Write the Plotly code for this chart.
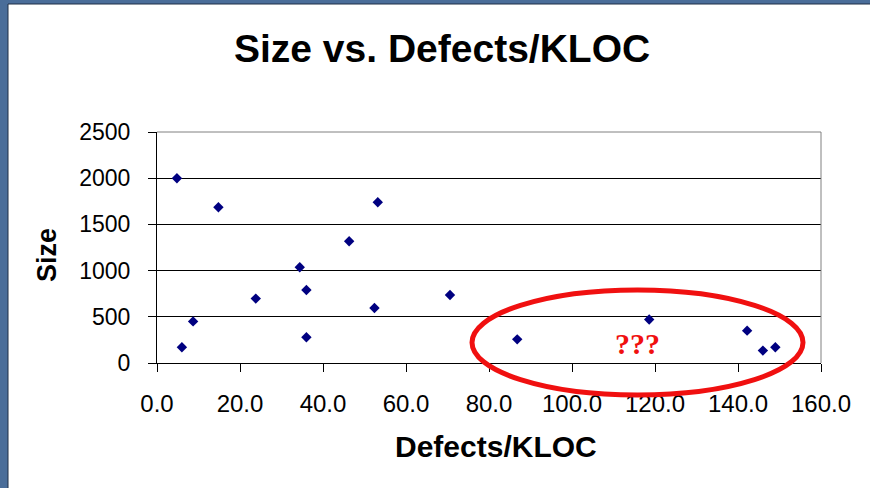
import plotly.graph_objects as go

# data
defects_per_kloc = [4.8, 6.0, 8.7, 14.8, 23.8, 34.4, 36.0, 36.0, 46.3, 53.2, 52.4, 70.6,
                    86.8, 118.6, 142.2, 146.0, 149.0]
size = [2000, 170, 450, 1685, 697, 1036, 790, 278, 1317, 1739, 595, 736,
        256, 470, 350, 134, 170]
x_ticks = [0, 20, 40, 60, 80, 100, 120, 140, 160]
y_ticks = [0, 500, 1000, 1500, 2000, 2500]

W, H = 870, 488
L, R, T, B = 157, 49, 132, 125
PW, PH = W - L - R, H - T - B


def px(x):
    return (x - L) / PW


def py(y):
    return (H - B - y) / PH


FONT = "Liberation Sans, Arial, sans-serif"

fig = go.Figure()
fig.add_trace(go.Scatter(
    x=defects_per_kloc, y=size, mode="markers",
    marker=dict(symbol="diamond", size=8, color="#000080", line=dict(width=0)),
    showlegend=False, hoverinfo="x+y",
))

shapes = [
    # white slide panel over the blue background
    dict(type="rect", xref="paper", yref="paper", layer="below",
         x0=px(8), x1=px(W + 5), y0=py(4), y1=py(H + 5),
         fillcolor="white", line=dict(color="#1e2e44", width=1)),
    # plot-area border (top and right, gray)
    dict(type="line", xref="paper", yref="paper", x0=0, x1=1, y0=1, y1=1,
         line=dict(color="#808080", width=1)),
    dict(type="line", xref="paper", yref="paper", x0=1, x1=1, y0=0, y1=1,
         line=dict(color="#808080", width=1)),
    # red ellipse
    dict(type="circle", xref="paper", yref="paper",
         x0=px(472), x1=px(803), y0=py(395), y1=py(290),
         line=dict(color="#f01010", width=5)),
]

annotations = [
    dict(text="<b>Size vs. Defects/KLOC</b>", xref="paper", yref="paper",
         x=px(442), y=py(48), xanchor="center", yanchor="middle", showarrow=False,
         font=dict(family=FONT, size=39, color="black")),
    dict(text="<b>Defects/KLOC</b>", xref="paper", yref="paper",
         x=px(496), y=py(446), xanchor="center", yanchor="middle", showarrow=False,
         font=dict(family=FONT, size=30, color="black")),
    dict(text="<b>Size</b>", xref="paper", yref="paper", textangle=-90,
         x=px(47), y=py(255), xanchor="center", yanchor="middle", showarrow=False,
         font=dict(family=FONT, size=27, color="black")),
    dict(text="<b>???</b>", xref="paper", yref="paper",
         x=px(637), y=py(343), xanchor="center", yanchor="middle", showarrow=False,
         font=dict(family="Liberation Serif, Times New Roman, serif", size=30, color="#f01010")),
]

fig.update_layout(
    width=W, height=H,
    margin=dict(l=L, r=R, t=T, b=B, pad=0),
    paper_bgcolor="#4a6d99", plot_bgcolor="white",
    shapes=shapes, annotations=annotations,
    font=dict(family=FONT, color="black"),
)
fig.update_xaxes(
    range=[0, 160], tickvals=x_ticks, tickformat=".1f",
    showgrid=False, zeroline=False,
    showline=True, linecolor="black", linewidth=1,
    ticks="outside", ticklen=8, tickcolor="black",
    tickfont=dict(size=24), ticklabelstandoff=11,
)
fig.update_yaxes(
    range=[0, 2500], tickvals=y_ticks,
    showgrid=True, gridcolor="black", gridwidth=1, zeroline=False,
    showline=True, linecolor="black", linewidth=1,
    ticks="outside", ticklen=8, tickcolor="black",
    tickfont=dict(size=23), ticklabelstandoff=13,
)

# drop the browser's default body margin so the figure sits at the page origin
fig.write_html("out.html", config={"displayModeBar": False},
               post_script="document.body.style.margin='0';document.body.style.overflow='hidden';")
